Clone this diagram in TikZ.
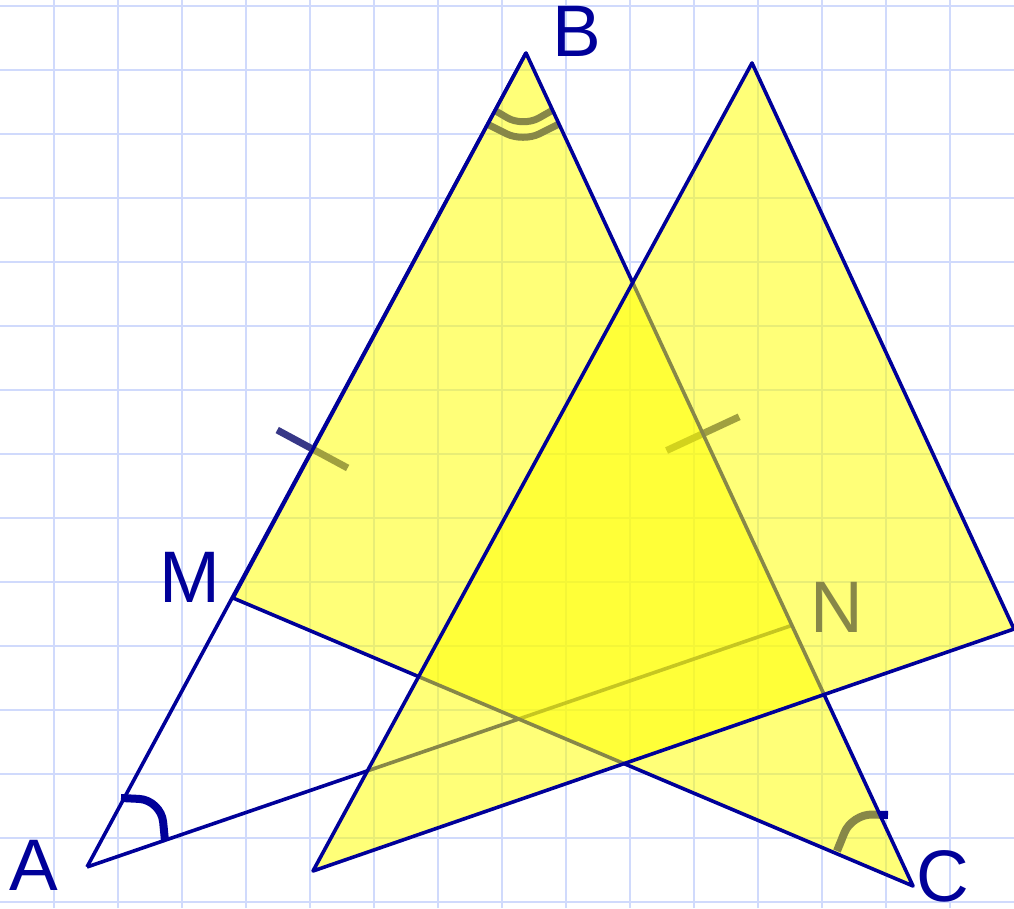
\documentclass[tikz,border=0pt]{standalone}
\usepackage{fontspec}
\setmainfont{Liberation Sans}
\usetikzlibrary{calc}
\definecolor{ggblue}{RGB}{0,0,153}
\definecolor{ggyellow}{RGB}{255,255,0}
\definecolor{gridc}{RGB}{208,218,252}
\definecolor{tickc}{RGB}{55,55,135}
\tikzset{
  lbl/.style={font=\fontsize{73}{80}\selectfont, text=ggblue, inner sep=0pt, anchor=base},
  seg/.style={draw=ggblue, line width=3.6pt},
  tickmark/.style={draw=tickc, line width=7pt},
  anglemark/.style={draw=ggblue, line width=7pt, rounded corners=18pt},
  tri/.style={fill=ggyellow, fill opacity=0.53}
}
\begin{document}
\begin{tikzpicture}[x=1pt,y=1pt,line join=round]
\useasboundingbox (0,0) rectangle (1014,908);
\fill[white] (0,0) rectangle (1014,908);
% grid
\foreach \i in {0,...,14}{
  \draw[gridc, line width=2pt] (54+64*\i,0) -- (54+64*\i,908);
  \draw[gridc, line width=2pt] (0,6+64*\i) -- (1014,6+64*\i);
}
% points
\coordinate (A) at (87,41);
\coordinate (B) at (526,855);
\coordinate (C) at (913,22);
\coordinate (M) at (233,310);
\coordinate (N) at (793,283);
\coordinate (P) at (313,37);
\coordinate (Q) at (752,845);
\coordinate (R) at (1014,279);
\coordinate (T1) at ($(A)!0.5135!(B)$);
\coordinate (T2) at ($(B)!0.457!(C)$);
% angle mark corner points
\coordinate (a1) at (121,110);
\coordinate (a2) at (161,108);
\coordinate (a3) at (165,67);
\coordinate (b1) at (494,798);
\coordinate (b2) at (523,781);
\coordinate (b3) at (553,798);
\coordinate (b4) at (487,784);
\coordinate (b5) at (523,766);
\coordinate (b6) at (559,784);
\coordinate (c1) at (837,57);
\coordinate (c2) at (852,94);
\coordinate (c3) at (888,93);
% lines under the fills
\draw[seg] (A) -- (B);
\draw[seg] (A) -- (N);
% tick marks
\draw[tickmark] ($(T1)!40pt!90:(B)$) -- ($(T1)!40pt!-90:(B)$);
\draw[tickmark] ($(T2)!40pt!90:(C)$) -- ($(T2)!40pt!-90:(C)$);
% angle marks
\draw[anglemark, line width=8pt, rounded corners=22pt] (a1) -- (a2) -- (a3);
\draw[anglemark] (b1) -- (b2) -- (b3);
\draw[anglemark] (b4) -- (b5) -- (b6);
\draw[anglemark, line width=8pt, rounded corners=20pt] (c1) -- (c2) -- (c3);
% label N (under the fill)
\node[lbl] (lN) at (837,275) {N};
% first triangle
\fill[tri] (B) -- (M) -- (C) -- cycle;
\draw[seg] (B) -- (M) -- (C) -- cycle;
% second triangle
\fill[tri] (P) -- (Q) -- (R) -- cycle;
\draw[seg] (P) -- (Q) -- (R) -- cycle;
% labels
\node[lbl] (lA) at (34,18) {A};
\node[lbl] (lB) at (577,851) {B};
\node[lbl] (lC) at (943,7) {C};
\node[lbl] (lM) at (190,305) {M};
\end{tikzpicture}
\end{document}
